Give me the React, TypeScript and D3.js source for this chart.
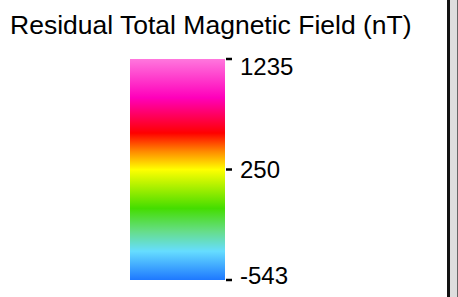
import * as d3 from "d3";
import * as React from "react";

// legend values (nT)
const tickValues = [1235, 250, -543];
const tickLabels = ["1235", "250", "-543"];
// colour ramp stops, value -> colour
const stopValues = [1235, 891, 575, 413, 250, -29, -193, -336, -543];
const stopColors = [
  "#ff77dd",
  "#ff00bb",
  "#ff0000",
  "#ff8800",
  "#ffff00",
  "#44dd00",
  "#66dd88",
  "#66ddff",
  "#1e78ff",
];
const title = "Residual Total Magnetic Field (nT)";

const W = 458;
const H = 297;

export default function App() {
  const bar = { x0: 130, x1: 225, top: 59, bottom: 280 };

  // piecewise scale: middle tick sits in the middle of the bar
  const y = d3
    .scaleLinear()
    .domain([-543, 250, 1235])
    .range([bar.bottom, (bar.top + bar.bottom) / 2, bar.top]);

  const span = bar.bottom - bar.top;

  return (
    <svg
      width={W}
      height={H}
      style={{ position: "absolute", left: 0, top: 0, background: "#fff" }}
      fontFamily="'Liberation Sans', Arial, sans-serif"
    >
      <defs>
        <linearGradient id="ramp" x1="0" y1="0" x2="0" y2="1">
          {stopValues.map((v, i) => (
            <stop
              key={i}
              offset={(y(v) - bar.top) / span}
              stopColor={stopColors[i]}
            />
          ))}
        </linearGradient>
      </defs>
      <text x={10} y={34} fontSize={26.5} fill="#000">
        {title}
      </text>
      <rect
        x={bar.x0}
        y={bar.top}
        width={bar.x1 - bar.x0}
        height={span}
        fill="url(#ramp)"
      />
      {tickValues.map((v, i) => {
        const ty = y(v);
        const ly = Math.max(bar.top + 8, Math.min(bar.bottom - 4, ty));
        return (
          <g key={i}>
            <line
              x1={bar.x1 + 1}
              x2={bar.x1 + 7}
              y1={ty}
              y2={ty}
              stroke="#000"
              strokeWidth={2.5}
            />
            <text
              x={bar.x1 + 15}
              y={ly}
              dy="0.35em"
              fontSize={24}
              fill="#000"
            >
              {tickLabels[i]}
            </text>
          </g>
        );
      })}
      {/* right side panel edge */}
      <rect x={447} y={0} width={3} height={H} fill="#111" />
      <rect x={450} y={0} width={7} height={H} fill="#dedede" />
      <rect x={457} y={0} width={1} height={H} fill="#666" />
    </svg>
  );
}
